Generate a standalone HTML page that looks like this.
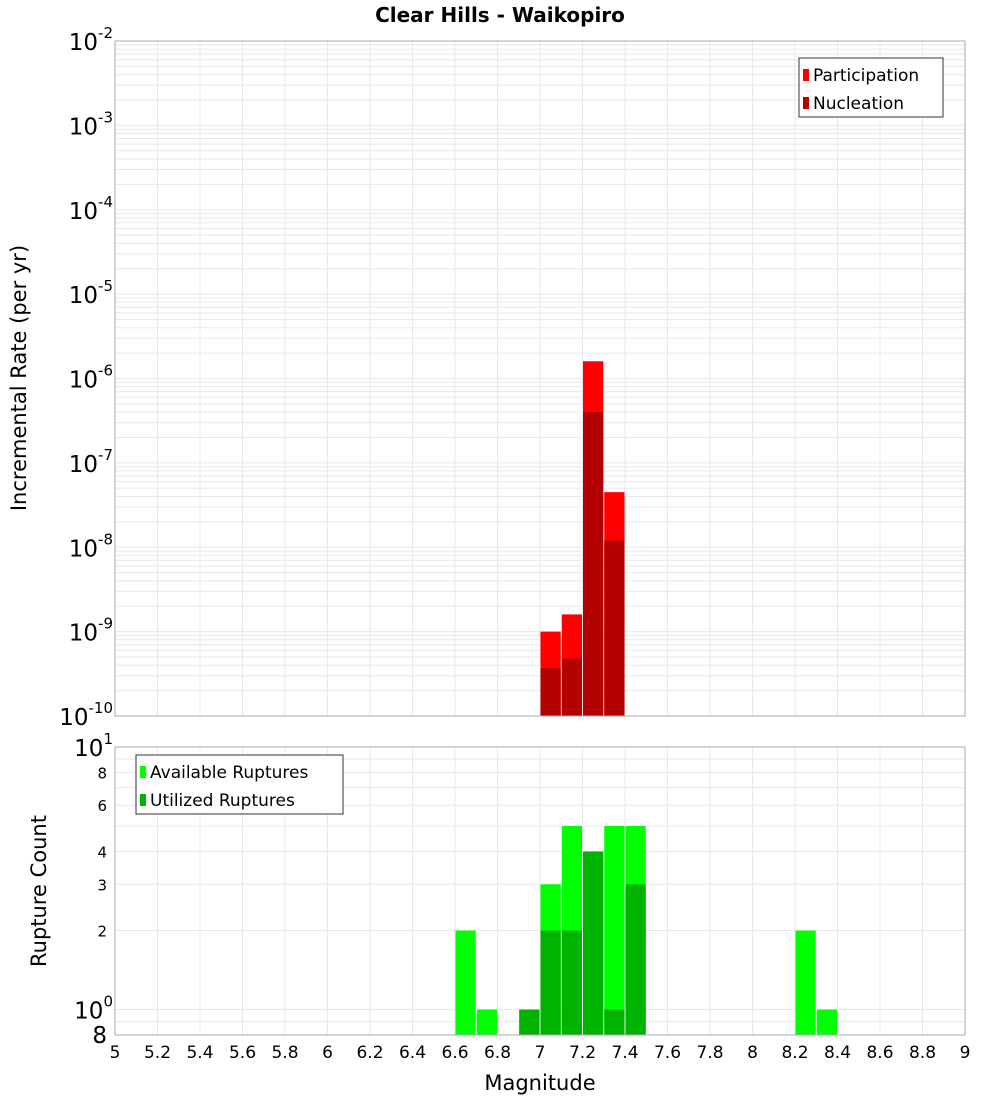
<!DOCTYPE html>
<html><head><meta charset="utf-8"><style>
body{margin:0;background:#fff;}
svg{display:block;font-family:"DejaVu Sans","Liberation Sans",sans-serif;}
</style></head><body>
<svg id="c" width="1000" height="1100" viewBox="0 0 1000 1100"></svg>
<script>
const binCenters=[7.05,7.15,7.25,7.35];
const participation=[1.0e-9,1.6e-9,1.6e-6,4.5e-8];
const nucleation=[3.7e-10,4.8e-10,4.0e-7,1.2e-8];
const countCenters=[6.65,6.75,6.95,7.05,7.15,7.25,7.35,7.45,8.25,8.35];
const available=[2,1,1,3,5,4,5,5,2,1];
const utilized=[0,0,1,2,2,4,1,3,0,0];
const xTicks=[5,5.2,5.4,5.6,5.8,6,6.2,6.4,6.6,6.8,7,7.2,7.4,7.6,7.8,8,8.2,8.4,8.6,8.8,9];
const topExps=[-2,-3,-4,-5,-6,-7,-8,-9,-10];
const botTicks=[8,6,4,3,2];

const NS="http://www.w3.org/2000/svg";
const svg=document.getElementById('c');
function el(t,a,p){const e=document.createElementNS(NS,t);for(const k in a)e.setAttribute(k,a[k]);(p||svg).appendChild(e);return e;}
const L=115,R=965,T1=41,B1=716,T2=747,B2=1035;
const x=v=>L+(v-5)/4*(R-L);
const y1=v=>T1+(-2-Math.log10(v))/8*(B1-T1);
const y2=v=>B2-(Math.log10(v)-Math.log10(0.8))/(1-Math.log10(0.8))*(B2-T2);

let t=el('text',{x:500,y:22,'text-anchor':'middle','font-size':20,'font-weight':'bold'});t.textContent='Clear Hills - Waikopiro';


const g=el('g',{stroke:'#e8e8e8','stroke-width':1});

for(let d=-10;d<-2;d++)for(let m=1;m<10;m++){const yy=y1(m*Math.pow(10,d));el('line',{x1:L,x2:R,y1:yy,y2:yy},g);}
for(let v=1;v<=10;v++){const yy=y2(v);el('line',{x1:L,x2:R,y1:yy,y2:yy},g);}
el('line',{x1:L,x2:R,y1:y2(0.9),y2:y2(0.9)},g);
xTicks.forEach(v=>{el('line',{x1:x(v),x2:x(v),y1:T1,y2:B1},g);el('line',{x1:x(v),x2:x(v),y1:T2,y2:B2},g);});

const bw=(x(5.1)-x(5))-1;
binCenters.forEach((c,i)=>{
 let r=el('rect',{x:x(c-0.05)+0.5,y:y1(participation[i]),width:bw,height:B1-y1(participation[i]),fill:'#ff0000'});
 
 r=el('rect',{x:x(c-0.05)+0.5,y:y1(nucleation[i]),width:bw,height:B1-y1(nucleation[i]),fill:'#b30000'});
 
});
countCenters.forEach((c,i)=>{
 let r=el('rect',{x:x(c-0.05)+0.5,y:y2(available[i]),width:bw,height:B2-y2(available[i]),fill:'#00ff00'});
 
 if(utilized[i]>0){r=el('rect',{x:x(c-0.05)+0.5,y:y2(utilized[i]),width:bw,height:B2-y2(utilized[i]),fill:'#00b300'});
 }
});

let f=el('rect',{x:L,y:T1,width:R-L,height:B1-T1,fill:'none',stroke:'#aaa'});

f=el('rect',{x:L,y:T2,width:R-L,height:B2-T2,fill:'none',stroke:'#aaa'});


topExps.forEach(e=>{
 const tt=el('text',{x:L-2,y:y1(Math.pow(10,e))+9,'text-anchor':'end','font-size':23});
 
 tt.innerHTML='10<tspan dy="-12" font-size="15">'+e+'</tspan>';
});
let tt=el('text',{x:L-2,y:y2(10)+9,'text-anchor':'end','font-size':23});tt.innerHTML='10<tspan dy="-12" font-size="15">1</tspan>';

tt=el('text',{x:L-2,y:y2(1)+9,'text-anchor':'end','font-size':23});tt.innerHTML='10<tspan dy="-12" font-size="15">0</tspan>';

tt=el('text',{x:L-8,y:B2+8,'text-anchor':'end','font-size':23});tt.textContent='8';

botTicks.forEach(v=>{const a=el('text',{x:L-8,y:y2(v)+6,'text-anchor':'end','font-size':15});a.textContent=v;
 });

xTicks.forEach(v=>{const a=el('text',{x:x(v),y:1058,'text-anchor':'middle','font-size':17});a.textContent=String(v);
 });
let a=el('text',{x:540,y:1090,'text-anchor':'middle','font-size':21});a.textContent='Magnitude';

a=el('text',{x:0,y:0,'text-anchor':'middle','font-size':21,transform:'translate(26,378) rotate(-90)'});a.textContent='Incremental Rate (per yr)';

a=el('text',{x:0,y:0,'text-anchor':'middle','font-size':21,transform:'translate(46,891) rotate(-90)'});a.textContent='Rupture Count';


function legend(x0,y0,w,items,name){
 const lg=el('g',{});
 el('rect',{x:x0,y:y0,width:w,height:59,fill:'#fff',stroke:'#333'},lg);
 items.forEach((it,i)=>{
  el('rect',{x:x0+4,y:y0+11+i*28,width:6,height:12,fill:it[1]},lg);
  const s=el('text',{x:x0+14,y:y0+23+i*28,'font-size':17},lg);s.textContent=it[0];
  
 });
}
legend(799,58,144,[['Participation','#ff0000'],['Nucleation','#b30000']],'top-legend');
legend(136,755,207,[['Available Ruptures','#00ff00'],['Utilized Ruptures','#00b300']],'bottom-legend');
</script>
</body></html>
